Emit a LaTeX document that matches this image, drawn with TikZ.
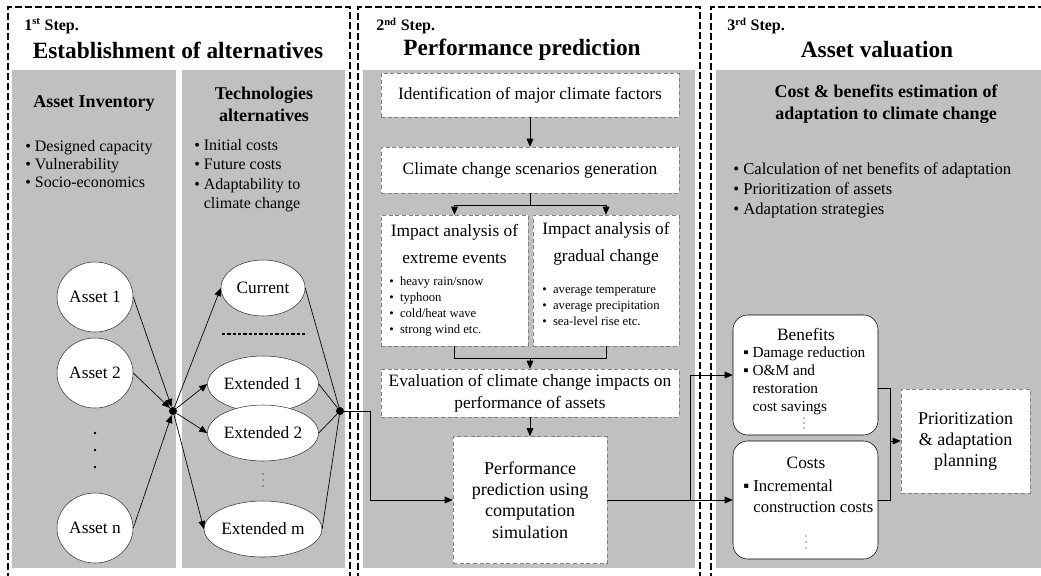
\documentclass[tikz,border=0pt]{standalone}
\usepackage{fontspec}
\setmainfont{Liberation Serif}
\usetikzlibrary{shapes.geometric,arrows.meta,positioning}
\definecolor{panelgray}{RGB}{192,192,192}

\begin{document}
\begin{tikzpicture}[x=0.75pt,y=-0.75pt,
  stepframe/.style={draw,line width=0.8pt,dash pattern=on 5pt off 2.5pt},
  steplabel/.style={anchor=west,inner sep=0,font=\bfseries\fontsize{12}{14}\selectfont},
  steptitle/.style={inner sep=0,font=\bfseries\fontsize{17.5}{20}\selectfont},
  subhead/.style={inner sep=0,align=center,font=\bfseries\fontsize{13.5}{16.5}\selectfont},
  itemlist/.style={anchor=north west,inner sep=0,align=left},
  assetnode/.style={ellipse,draw=black!80,fill=white,inner sep=0,minimum width=57pt,minimum height=52.5pt,font=\fontsize{13}{15}\selectfont},
  technode/.style={ellipse,draw=black!80,fill=white,inner sep=0,minimum width=63pt,minimum height=42pt,font=\fontsize{13}{15}\selectfont},
  jdot/.style={circle,fill=black,inner sep=0,minimum size=6pt},
  flowbox/.style={draw=gray,densely dashed,fill=white,inner sep=0,align=center,font=\fontsize{13}{16.5}\selectfont},
  roundbox/.style={draw,rounded corners=11pt,fill=white,inner sep=0},
  link/.style={draw,line width=0.5pt},
  arr/.style={-{Triangle[length=6pt,width=5pt]}}]
\useasboundingbox (0,0) rectangle (1041,575);

\draw[stepframe] (8,590) -- (8,7) -- (350,7) -- (350,590);
\draw[stepframe] (358,590) -- (358,7) -- (700,7) -- (700,590);
\draw[stepframe] (711,590) -- (711,7) -- (1060,7);
\fill[panelgray] (12,70) rectangle (176,568);
\fill[panelgray] (182,70) rectangle (345,568);
\fill[panelgray] (363,70) rectangle (695,568);
\fill[panelgray] (716,70) rectangle (1060,568);

\node[steplabel] (s1) at (24,26) {1\textsuperscript{st} Step.};
\node[steptitle] (t1) at (178,50) {Establishment of alternatives};
\node[steplabel] (s2) at (376,26) {2\textsuperscript{nd} Step.};
\node[steptitle] (t2) at (522,50) {Performance prediction};
\node[steplabel] (s3) at (727,26) {3\textsuperscript{rd} Step.};
\node[steptitle] (t3) at (877,50) {Asset valuation};

\node[subhead] (inv) at (94,103) {Asset Inventory};
\node[subhead] (tech) at (264,104) {Technologies\\alternatives};
\node[itemlist,font=\fontsize{12}{13.5}\selectfont] (invlist) at (25,140) {\textbullet\ Designed capacity\\\textbullet\ Vulnerability\\\textbullet\ Socio-economics};
\node[itemlist,font=\fontsize{12}{14.5}\selectfont] (techlist) at (194,139) {\textbullet\ Initial costs\\\textbullet\ Future costs\\\textbullet\ Adaptability to\\\phantom{\textbullet\ }climate change};

\node[assetnode] (a1) at (95,297) {Asset 1};
\node[assetnode] (a2) at (95,373) {Asset 2};
\node[assetnode] (an) at (95,528) {Asset n};
\foreach \dy in {433,450,467}
  \fill (95,\dy) circle (1.1pt);
\node[technode] (cur) at (263,288) {Current};
\node[technode] (ext1) at (263,384) {Extended 1};
\node[technode] (ext2) at (263,433) {Extended 2};
\node[technode] (extm) at (263,529) {Extended m};
\draw[line width=2pt,dash pattern=on 2.5pt off 1.5pt] (222,334) -- (305,334);
\foreach \dy in {474,480,486}
  \fill (263,\dy) circle (0.45pt);
\node[jdot] (jL) at (173,411) {};
\node[jdot] (jR) at (340,411) {};

\node[flowbox,minimum width=223.5pt,minimum height=33pt] (idf) at (530,95) {Identification of major climate factors};
\node[flowbox,minimum width=223.5pt,minimum height=34.5pt] (scen) at (530,170) {Climate change scenarios generation};
\node[flowbox,minimum width=110.25pt,minimum height=98.25pt] (ext) at (454.5,280.5) {};
\node[flowbox,minimum width=109.5pt,minimum height=98.25pt] (grad) at (606,280.5) {};
\node[inner sep=0,align=center,font=\fontsize{13}{20}\selectfont] (exthead) at (454.5,244) {Impact analysis of\\extreme events};
\node[inner sep=0,align=center,font=\fontsize{13}{20}\selectfont] (gradhead) at (606,244) {Impact analysis of\\gradual change};
\node[itemlist,font=\fontsize{9.5}{12}\selectfont] (extlist) at (389,276) {\textbullet\ \ heavy rain/snow\\\textbullet\ \ typhoon\\\textbullet\ \ cold/heat wave\\\textbullet\ \ strong wind etc.};
\node[itemlist,font=\fontsize{9.5}{12}\selectfont] (gradlist) at (542,286) {\textbullet\ \ average temperature\\\textbullet\ \ average precipitation\\\textbullet\ \ sea-level rise etc.};
\node[flowbox,minimum width=223.5pt,minimum height=36pt] (eval) at (530,393) {Evaluation of climate change impacts on\\performance of assets};
\node[flowbox,minimum width=115.5pt,minimum height=95.25pt,font=\fontsize{13.5}{16}\selectfont] (perf) at (530,500) {Performance\\prediction using\\computation\\simulation};

\node[subhead] (cbhead) at (886,104) {Cost \& benefits estimation of\\adaptation to climate change};
\node[itemlist,font=\fontsize{12.5}{15}\selectfont] (cblist) at (733,162) {\textbullet\ Calculation of net benefits of adaptation\\\textbullet\ Prioritization of assets\\\textbullet\ Adaptation strategies};
\node[roundbox,minimum width=108.75pt,minimum height=90pt] (ben) at (805.5,375) {};
\node[roundbox,minimum width=108.75pt,minimum height=88.5pt] (cost) at (805.5,500) {};
\node[inner sep=0,font=\fontsize{13}{15}\selectfont] (benhead) at (806,334) {Benefits};
\node[itemlist,font=\fontsize{11.5}{13.5}\selectfont] (benlist) at (743,347) {▪ Damage reduction\\▪ O\&M and\\\phantom{▪ }restoration\\\phantom{▪ }cost savings};
\foreach \dy in {418,423,428}
  \fill (804,\dy) circle (0.45pt);
\node[inner sep=0,font=\fontsize{13}{15}\selectfont] (costhead) at (806,463) {Costs};
\node[itemlist,font=\fontsize{12.5}{15.75}\selectfont] (costlist) at (743,480) {▪ Incremental\\\phantom{▪ }construction costs};
\foreach \dy in {536,542,548}
  \fill (806,\dy) circle (0.45pt);
\node[flowbox,minimum width=96.75pt,minimum height=78pt,font=\fontsize{13.5}{15.75}\selectfont] (prio) at (965.5,441) {Prioritization\\\& adaptation\\planning};

\draw[link,arr] (a1.east) -- (jL);
\draw[link,arr] (a2.east) -- (jL);
\draw[link,arr] (an.east) -- (jL);
\foreach \t in {cur,ext1,ext2,extm} {
  \draw[link,arr] (jL) -- (\t.west);
  \draw[link] (\t.east) -- (jR);
}
\draw[link,arr] (jR) -- ++(30,0) |- (perf.west);
\draw[link,arr] (idf.south) -- (scen.north);
\draw[link] (scen.south) -- ++(0,12) coordinate (split);
\draw[link,arr] (split) -| (ext.north);
\draw[link,arr] (split) -| (grad.north);
\draw[link] (ext.south) -- ++(0,12) -| (grad.south);
\draw[link,arr] ([yshift=8.25pt]eval.north) -- (eval.north);
\draw[link,arr] (eval.south) -- (perf.north);
\draw[link,arr] (perf.east) -- ++(83,0) |- (ben.west);
\draw[link,arr] (perf.east) -- (cost.west);
\draw[link] ([yshift=-9.75pt]ben.east) -- ++(12,0) coordinate (bj) |- (cost.east);
\draw[link,arr] (bj |- prio.west) -- (prio.west);
\end{tikzpicture}
\end{document}
